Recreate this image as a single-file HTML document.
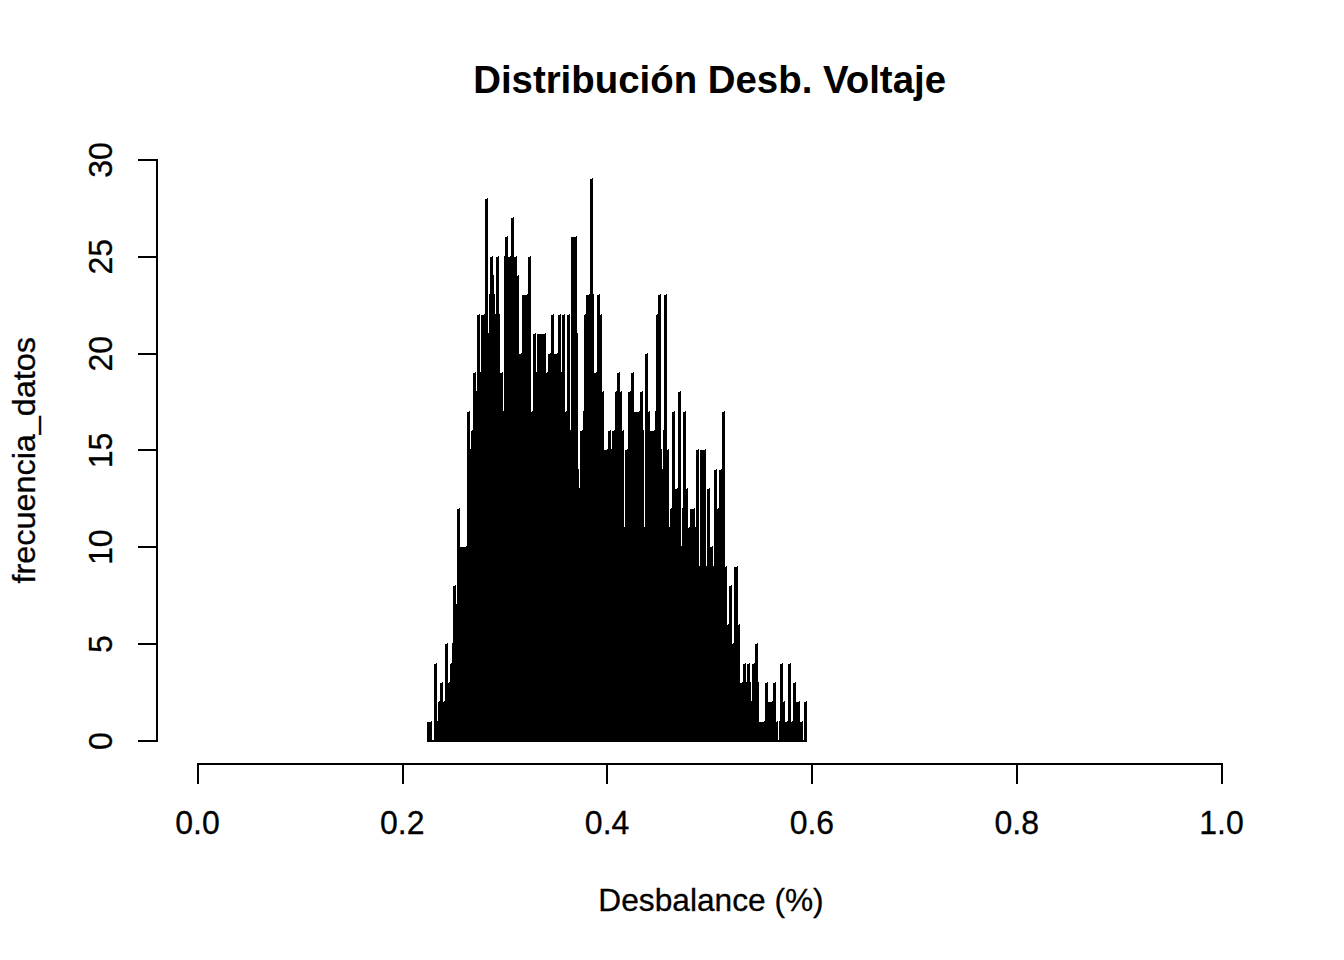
<!DOCTYPE html>
<html><head><meta charset="utf-8"><style>
html,body{margin:0;padding:0;background:#fff;}
svg{display:block;}
text{font-family:"Liberation Sans",sans-serif;fill:#000;}
.r{stroke:#000;stroke-width:0.3px;}
</style></head><body>
<svg width="1344" height="960" viewBox="0 0 1344 960">
<rect width="1344" height="960" fill="#fff"/>
<g shape-rendering="crispEdges" fill="#000">
<path d="M427 742V722H431V721H432V742ZM432 742V740H434V742ZM434 742V664H436V663H437V742ZM437 742V722H437V721H438V742ZM438 742V702H439V701H440V742ZM440 742V683H442V682H443V742ZM443 742V702H444V701H445V742ZM445 742V644H447V643H448V742ZM448 742V683H449V682H450V742ZM450 742V664H451V663H452V742ZM452 742V644H452V643H453V742ZM453 742V586H455V585H456V742ZM456 742V605H456V604H457V742ZM457 742V509H459V508H460V742ZM460 742V547H466V546H467V742ZM467 742V412H469V411H470V742ZM470 742V450H470V449H471V742ZM471 742V431H472V430H473V742ZM473 742V373H475V372H476V742ZM476 742V392H476V391H477V742ZM477 742V315H479V314H480V742ZM480 742V373H480V372H481V742ZM481 742V315H484V314H485V742ZM485 742V199H487V198H488V742ZM488 742V334H488V333H489V742ZM489 742V295H489V294H490V742ZM490 742V257H492V256H493V742ZM493 742V276H493V275H494V742ZM494 742V295H494V294H495V742ZM495 742V315H495V314H496V742ZM496 742V257H498V256H499V742ZM499 742V315H499V314H500V742ZM500 742V373H502V372H503V742ZM503 742V412H503V411H504V742ZM504 742V257H504V256H505V742ZM505 742V237H507V236H508V742ZM508 742V257H510V256H511V742ZM511 742V218H513V217H514V742ZM514 742V257H516V256H517V742ZM517 742V276H518V275H519V742ZM519 742V354H521V353H522V742ZM522 742V295H527V294H528V742ZM528 742V257H530V256H531V742ZM531 742V412H532V411H533V742ZM533 742V334H535V333H536V742ZM536 742V373H536V372H537V742ZM537 742V334H545V333H546V742ZM546 742V373H547V372H548V742ZM548 742V354H550V353H551V742ZM551 742V315H553V314H554V742ZM554 742V354H557V353H558V742ZM558 742V315H560V314H561V742ZM561 742V373H561V372H562V742ZM562 742V315H564V314H565V742ZM565 742V412H566V411H567V742ZM567 742V315H569V314H570V742ZM570 742V431H570V430H571V742ZM571 742V237H576V236H577V742ZM577 742V334H577V333H578V742ZM578 742V470H578V469H579V742ZM579 742V489H579V488H580V742ZM580 742V431H582V430H583V742ZM583 742V412H583V411H584V742ZM584 742V315H585V314H586V742ZM586 742V295H589V294H590V742ZM590 742V179H592V178H593V742ZM593 742V295H593V294H594V742ZM594 742V373H596V372H597V742ZM597 742V295H599V294H600V742ZM600 742V315H601V314H602V742ZM602 742V392H603V391H604V742ZM604 742V450H607V449H608V742ZM608 742V431H610V430H611V742ZM611 742V450H611V449H612V742ZM612 742V431H614V430H615V742ZM615 742V392H616V391H617V742ZM617 742V373H619V372H620V742ZM620 742V392H621V391H622V742ZM622 742V431H623V430H624V742ZM624 742V528H624V527H625V742ZM625 742V450H627V449H628V742ZM628 742V392H630V391H631V742ZM631 742V373H633V372H634V742ZM634 742V412H639V411H640V742ZM640 742V392H642V391H643V742ZM643 742V431H643V430H644V742ZM644 742V528H644V527H645V742ZM645 742V354H647V353H648V742ZM648 742V412H649V411H650V742ZM650 742V431H654V430H655V742ZM655 742V412H655V411H656V742ZM656 742V315H657V314H658V742ZM658 742V295H660V294H661V742ZM661 742V450H661V449H662V742ZM662 742V470H662V469H663V742ZM663 742V431H663V430H664V742ZM664 742V295H666V294H667V742ZM667 742V450H668V449H669V742ZM669 742V528H669V527H670V742ZM670 742V509H671V508H672V742ZM672 742V412H674V411H675V742ZM675 742V489H677V488H678V742ZM678 742V392H680V391H681V742ZM681 742V547H681V546H682V742ZM682 742V509H682V508H683V742ZM683 742V412H685V411H686V742ZM686 742V489H687V488H688V742ZM688 742V528H689V527H690V742ZM690 742V509H694V508H695V742ZM695 742V528H695V527H696V742ZM696 742V450H698V449H699V742ZM699 742V567H699V566H700V742ZM700 742V450H705V449H706V742ZM706 742V567H706V566H707V742ZM707 742V489H709V488H710V742ZM710 742V547H712V546H713V742ZM713 742V567H713V566H714V742ZM714 742V470H716V469H717V742ZM717 742V509H718V508H719V742ZM719 742V470H721V469H722V742ZM722 742V412H724V411H725V742ZM725 742V567H726V566H727V742ZM727 742V625H728V624H729V742ZM729 742V586H731V585H732V742ZM732 742V644H733V643H734V742ZM734 742V567H737V566H738V742ZM738 742V625H739V624H740V742ZM740 742V683H742V682H743V742ZM743 742V664H745V663H746V742ZM746 742V683H746V682H747V742ZM747 742V664H749V663H750V742ZM750 742V683H750V682H751V742ZM751 742V702H751V701H752V742ZM752 742V664H754V663H755V742ZM755 742V644H757V643H758V742ZM758 742V683H758V682H759V742ZM759 742V722H764V721H765V742ZM765 742V683H767V682H768V742ZM768 742V702H772V701H773V742ZM773 742V683H775V682H776V742ZM776 742V722H777V721H778V742ZM778 742V740H779V742ZM779 742V722H779V721H780V742ZM780 742V664H782V663H783V742ZM783 742V702H784V701H785V742ZM785 742V722H787V721H788V742ZM788 742V664H790V663H791V742ZM791 742V722H792V721H793V742ZM793 742V683H795V682H796V742ZM796 742V702H799V701H800V742ZM800 742V722H802V721H803V742ZM803 742V740H804V742ZM804 742V702H806V701H807V742Z"/>
<rect x="156" y="159" width="2" height="583"/>
<rect x="138" y="740" width="19" height="2"/>
<rect x="138" y="643" width="19" height="2"/>
<rect x="138" y="546" width="19" height="2"/>
<rect x="138" y="449" width="19" height="2"/>
<rect x="138" y="353" width="19" height="2"/>
<rect x="138" y="256" width="19" height="2"/>
<rect x="138" y="159" width="19" height="2"/>
<rect x="197" y="763" width="1026" height="2"/>
<rect x="197" y="763" width="2" height="21"/>
<rect x="402" y="763" width="2" height="21"/>
<rect x="606" y="763" width="2" height="21"/>
<rect x="811" y="763" width="2" height="21"/>
<rect x="1016" y="763" width="2" height="21"/>
<rect x="1221" y="763" width="2" height="21"/>
</g>
<text x="709.6" y="93" font-size="38.4" font-weight="bold" text-anchor="middle">Distribución Desb. Voltaje</text>
<text transform="translate(711 910.7) scale(0.99 1)" font-size="32" text-anchor="middle" class="r">Desbalance (%)</text>
<text transform="translate(197.5 834) scale(1 1.02)" font-size="32" text-anchor="middle" class="r">0.0</text>
<text transform="translate(402.3 834) scale(1 1.02)" font-size="32" text-anchor="middle" class="r">0.2</text>
<text transform="translate(607.1 834) scale(1 1.02)" font-size="32" text-anchor="middle" class="r">0.4</text>
<text transform="translate(811.9 834) scale(1 1.02)" font-size="32" text-anchor="middle" class="r">0.6</text>
<text transform="translate(1016.7 834) scale(1 1.02)" font-size="32" text-anchor="middle" class="r">0.8</text>
<text transform="translate(1221.5 834) scale(1 1.02)" font-size="32" text-anchor="middle" class="r">1.0</text>
<text transform="translate(112 741.00) rotate(-90) scale(1 1.02)" font-size="32" text-anchor="middle" class="r">0</text>
<text transform="translate(112 644.16) rotate(-90) scale(1 1.02)" font-size="32" text-anchor="middle" class="r">5</text>
<text transform="translate(112 547.33) rotate(-90) scale(1 1.02)" font-size="32" text-anchor="middle" class="r">10</text>
<text transform="translate(112 450.50) rotate(-90) scale(1 1.02)" font-size="32" text-anchor="middle" class="r">15</text>
<text transform="translate(112 353.66) rotate(-90) scale(1 1.02)" font-size="32" text-anchor="middle" class="r">20</text>
<text transform="translate(112 256.82) rotate(-90) scale(1 1.02)" font-size="32" text-anchor="middle" class="r">25</text>
<text transform="translate(112 159.99) rotate(-90) scale(1 1.02)" font-size="32" text-anchor="middle" class="r">30</text>
<text transform="translate(34.8 460.2) rotate(-90) scale(1.0116 1)" font-size="32" text-anchor="middle" class="r">frecuencia_datos</text>
</svg></body></html>
